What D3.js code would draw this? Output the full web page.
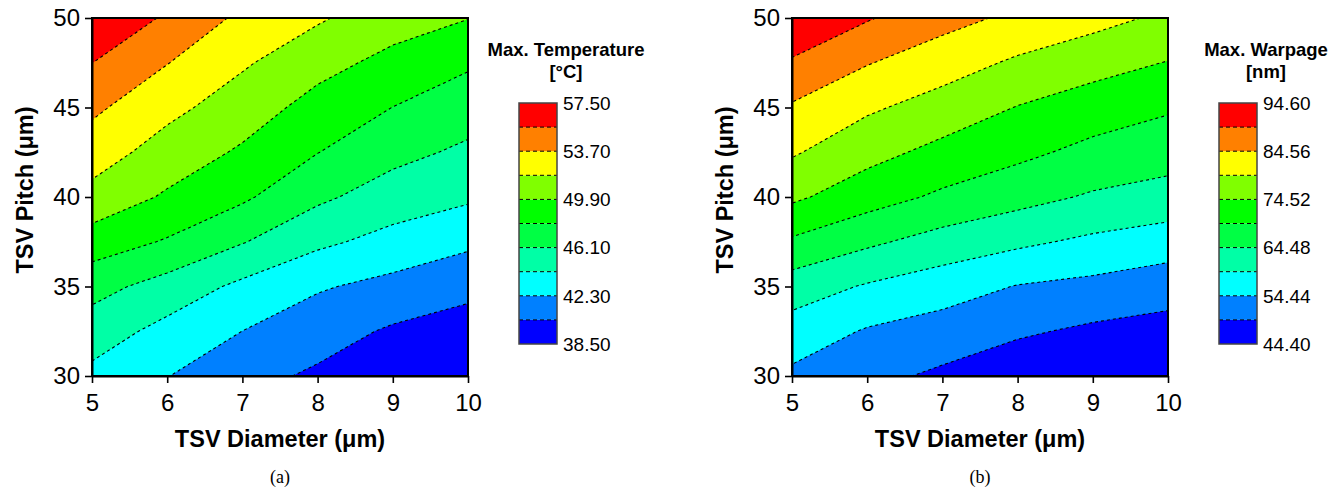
<!DOCTYPE html>
<html>
<head>
<meta charset="utf-8">
<script src="https://cdn.jsdelivr.net/npm/d3@7"></script>
<style>
  body { margin: 0; background: #fff; }
  svg { display: block; font-family: Arial, "Liberation Sans", sans-serif; }
</style>
</head>
<body>
<svg id="chart" width="1330" height="489"></svg>
<script>
// Grid of the two response surfaces: columns = TSV diameter, rows = TSV pitch
const diameters = [5, 6, 7, 8, 9, 10];
const pitches = [30, 32.5, 35, 37.5, 40, 42.5, 45, 47.5, 50];

// Max. temperature [°C], one row per pitch (30 -> 50)
const temperature = [
  [43.73, 42.35, 41.00, 40.10, 38.56, 38.50],
  [45.14, 43.62, 42.29, 41.20, 40.15, 39.60],
  [46.77, 45.35, 43.78, 42.50, 41.74, 40.89],
  [49.01, 47.83, 46.21, 44.59, 43.57, 42.69],
  [51.20, 49.65, 48.31, 46.46, 45.21, 44.49],
  [52.72, 50.99, 49.64, 48.04, 46.65, 45.75],
  [54.08, 52.32, 50.86, 49.22, 47.98, 46.97],
  [55.62, 53.76, 52.04, 50.54, 49.36, 48.26],
  [57.50, 55.30, 53.30, 52.03, 50.73, 49.95]
];

// Max. warpage [nm], one row per pitch (30 -> 50)
const warpage = [
  [53.44, 50.80, 48.50, 46.10, 45.20, 44.40],
  [57.28, 54.00, 52.26, 50.15, 48.51, 47.60],
  [61.98, 58.98, 56.76, 54.21, 53.14, 51.54],
  [68.75, 65.41, 62.50, 60.44, 58.47, 56.97],
  [75.44, 71.67, 68.62, 66.17, 63.90, 62.57],
  [80.10, 76.18, 73.09, 70.70, 68.11, 66.60],
  [83.98, 80.31, 77.48, 74.33, 72.10, 70.08],
  [88.91, 84.83, 81.81, 78.77, 76.39, 74.33],
  [94.60, 90.00, 86.30, 83.50, 81.19, 78.58]
];

// contour levels (colour scale boundaries)
const tempLevels = [38.50, 40.40, 42.30, 44.20, 46.10, 48.00, 49.90, 51.80, 53.70, 55.60, 57.50];
const warpLevels = [44.40, 49.42, 54.44, 59.46, 64.48, 69.50, 74.52, 79.54, 84.56, 89.58, 94.60];

const xTicks = [5, 6, 7, 8, 9, 10];
const yTicks = [30, 35, 40, 45, 50];

const bandColors = ["#0000ff", "#0080ff", "#00ffff", "#00ffa6", "#00ff44", "#00ff00",
                    "#80ff00", "#ffff00", "#ff8000", "#ff0000"];

const svg = d3.select("#chart");

function drawPanel(opt) {
  const left = opt.left, right = opt.left + 376, top = 18, bottom = 376;
  const g = svg.append("g");

  const x = d3.scaleLinear().domain([5, 10]).range([left, right]);
  const y = d3.scaleLinear().domain([30, 50]).range([bottom, top]);

  const clipId = "clip-" + opt.id;
  svg.append("defs").append("clipPath").attr("id", clipId)
    .append("rect")
      .attr("x", left).attr("y", top)
      .attr("width", right - left).attr("height", bottom - top);

  // contours from the grid
  const values = opt.grid.flat();
  const contours = d3.contours()
    .size([diameters.length, pitches.length])
    .thresholds(opt.levels.slice(0, -1))(values);

  const dx = diameters[1] - diameters[0], dp = pitches[1] - pitches[0];
  const proj = d3.geoTransform({
    point: function(cx, cy) {
      this.stream.point(x(diameters[0] + (cx - 0.5) * dx), y(pitches[0] + (cy - 0.5) * dp));
    }
  });
  const path = d3.geoPath(proj);

  const plot = g.append("g").attr("clip-path", `url(#${clipId})`);
  plot.append("rect")
    .attr("x", left).attr("y", top)
    .attr("width", right - left).attr("height", bottom - top)
    .attr("fill", bandColors[0]);

  plot.selectAll("path.band")
    .data(contours)
    .join("path")
      .attr("class", "band")
      .attr("d", path)
      .attr("fill", (d, i) => bandColors[i])
      .attr("stroke", "none");

  plot.selectAll("path.iso")
    .data(contours.slice(1))
    .join("path")
      .attr("class", "iso")
      .attr("d", path)
      .attr("fill", "none")
      .attr("stroke", "#000")
      .attr("stroke-width", 1.1)
      .attr("stroke-dasharray", "3,3");

  // frame
  g.append("rect")
    .attr("x", left).attr("y", top)
    .attr("width", right - left).attr("height", bottom - top)
    .attr("fill", "none").attr("stroke", "#000").attr("stroke-width", 2);

  // axes
  const xAxis = g.append("g")
    .attr("transform", `translate(0,${bottom})`)
    .call(d3.axisBottom(x).tickValues(xTicks).tickFormat(d3.format("d"))
      .tickSize(7).tickSizeOuter(0).tickPadding(11));
  const yAxis = g.append("g")
    .attr("transform", `translate(${left},0)`)
    .call(d3.axisLeft(y).tickValues(yTicks).tickFormat(d3.format("d"))
      .tickSize(7).tickSizeOuter(0).tickPadding(5));
  [xAxis, yAxis].forEach(a => {
    a.select(".domain").attr("stroke-width", 2);
    a.selectAll(".tick line").attr("stroke-width", 1.6);
    a.selectAll(".tick text")
      .attr("fill", "#000")
      .style("font-size", "24px")
      .style("font-family", "Arial, 'Liberation Sans', sans-serif");
  });

  // axis titles
  g.append("text")
    .attr("x", (left + right) / 2)
    .attr("y", 447)
    .attr("text-anchor", "middle")
    .style("font-size", "23.5px")
    .style("font-weight", "bold")
    .text("TSV Diameter (μm)");

  g.append("text")
    .attr("transform", `translate(${left - 59},190) rotate(-90)`)
    .attr("text-anchor", "middle")
    .style("font-size", "23.5px")
    .style("font-weight", "bold")
    .text("TSV Pitch (μm)");

  // panel caption
  g.append("text")
    .attr("x", (left + right) / 2)
    .attr("y", 483)
    .attr("text-anchor", "middle")
    .style("font-family", "'Liberation Serif', 'Times New Roman', serif")
    .style("font-size", "18px")
    .text(opt.caption);

  // colour bar
  const cbLeft = left + 427, cbW = 38;
  const cb = d3.scaleLinear()
    .domain([opt.levels[0], opt.levels[opt.levels.length - 1]])
    .range([344, 103]);

  g.selectAll("rect.cb")
    .data(d3.range(opt.levels.length - 1))
    .join("rect")
      .attr("class", "cb")
      .attr("x", cbLeft)
      .attr("y", i => cb(opt.levels[i + 1]))
      .attr("width", cbW)
      .attr("height", i => cb(opt.levels[i]) - cb(opt.levels[i + 1]))
      .attr("fill", i => bandColors[i]);

  g.selectAll("line.cb")
    .data(opt.levels.slice(1, -1))
    .join("line")
      .attr("class", "cb")
      .attr("x1", cbLeft).attr("x2", cbLeft + cbW)
      .attr("y1", d => cb(d)).attr("y2", d => cb(d))
      .attr("stroke", "#000")
      .attr("stroke-width", 1)
      .attr("stroke-dasharray", "4,3");

  g.append("rect")
    .attr("x", cbLeft).attr("y", 103)
    .attr("width", cbW).attr("height", 241)
    .attr("fill", "none").attr("stroke", "#444").attr("stroke-width", 1.5);

  g.selectAll("text.cbl")
    .data(opt.levels.filter((d, i) => i % 2 === 0))
    .join("text")
      .attr("class", "cbl")
      .attr("x", cbLeft + cbW + 6)
      .attr("y", d => cb(d))
      .attr("dy", "0.36em")
      .style("font-size", "19px")
      .text(d => d.toFixed(2));

  const titleX = cbLeft + 47;
  opt.title.forEach((t, i) => {
    g.append("text")
      .attr("x", titleX)
      .attr("y", 56 + i * 22)
      .attr("text-anchor", "middle")
      .style("font-size", "18.5px")
      .style("font-weight", "bold")
      .text(t);
  });
}

drawPanel({id: "a", left: 92, grid: temperature, levels: tempLevels,
           title: ["Max. Temperature", "[°C]"], caption: "(a)"});
drawPanel({id: "b", left: 792, grid: warpage, levels: warpLevels,
           title: ["Max. Warpage", "[nm]"], caption: "(b)"});
</script>
</body>
</html>
